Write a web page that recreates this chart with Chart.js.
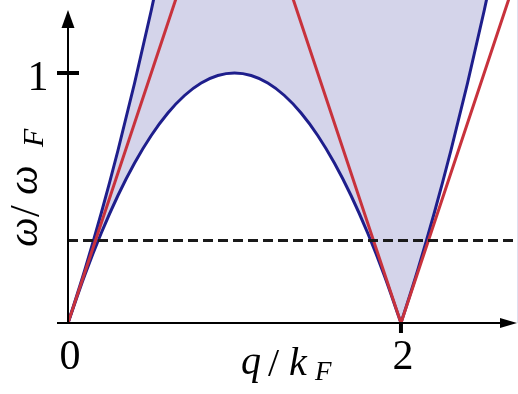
<!DOCTYPE html>
<html>
<head>
<meta charset="utf-8">
<script src="https://cdn.jsdelivr.net/npm/chart.js@4/dist/chart.umd.min.js"></script>
<style>
  html, body { margin: 0; padding: 0; background: #fff; }
  canvas { display: block; }
</style>
</head>
<body>
<canvas id="chart" width="518" height="394"></canvas>
<script>
// values (q in units of k_F, omega in units of omega_F)
const qArc = [0, 0.1, 0.2, 0.3, 0.4, 0.5, 0.6, 0.7, 0.8, 0.9, 1.0, 1.1, 1.2, 1.3, 1.4, 1.5, 1.6, 1.7, 1.8, 1.9, 2.0];
const omegaArc = [0, 0.19, 0.36, 0.51, 0.64, 0.75, 0.84, 0.91, 0.96, 0.99, 1.0, 0.99, 0.96, 0.91, 0.84, 0.75, 0.64, 0.51, 0.36, 0.19, 0];

const qUpper = [0, 0.1, 0.2, 0.3, 0.4, 0.5, 0.6, 0.7];
const omegaUpper = [0, 0.21, 0.44, 0.69, 0.96, 1.25, 1.56, 1.89];

const qRight = [2.0, 2.1, 2.2, 2.3, 2.4, 2.5, 2.6, 2.7];
const omegaRight = [0, 0.21, 0.44, 0.69, 0.96, 1.25, 1.56, 1.89];

const qRedLeft = [0, 0.7];
const omegaRedLeft = [0, 1.4];
const qRedRight = [1.3, 2.0, 2.7];
const omegaRedRight = [1.4, 0, 1.4];

const qDash = [0, 2.71];
const omegaDash = [0.33, 0.33];

// top edge of the shaded continuum (upper curve, then flat above the frame)
const qShade = [0, 0.1, 0.2, 0.3, 0.4, 0.5, 0.6, 0.7, 2.71];
const omegaShade = [0, 0.21, 0.44, 0.69, 0.96, 1.25, 1.56, 1.89, 1.89];

const xTicks = [0, 2];
const yTicks = [1];

const BLUE = "#1e1e8c";
const RED = "#c8323c";
const SHADE = "rgb(212,212,234)";

function toPoints(xs, ys) {
  return xs.map((x, i) => ({ x: x, y: ys[i] }));
}

// ==========================
// Axes, arrows, ticks and labels
// ==========================
const axesPlugin = {
  id: "axes",
  afterDatasetsDraw(chart) {
    const { ctx } = chart;
    const xs = chart.scales.x;
    const ys = chart.scales.y;
    const x0 = xs.getPixelForValue(0);
    const y0 = ys.getPixelForValue(0);

    ctx.save();
    ctx.strokeStyle = "#000";
    ctx.fillStyle = "#000";
    ctx.lineWidth = 2;

    // x axis
    ctx.beginPath();
    ctx.moveTo(57, y0);
    ctx.lineTo(503, y0);
    ctx.stroke();
    ctx.beginPath();
    ctx.moveTo(517, y0);
    ctx.lineTo(500, y0 - 5);
    ctx.lineTo(500, y0 + 5);
    ctx.closePath();
    ctx.fill();

    // y axis
    ctx.beginPath();
    ctx.moveTo(x0, y0 + 1);
    ctx.lineTo(x0, 24);
    ctx.stroke();
    ctx.beginPath();
    ctx.moveTo(x0, 10);
    ctx.lineTo(x0 - 6.5, 28);
    ctx.lineTo(x0 + 6.5, 28);
    ctx.closePath();
    ctx.fill();

    // ticks
    ctx.lineWidth = 4;
    xTicks.filter((v) => v !== 0).forEach((v) => {
      const px = xs.getPixelForValue(v);
      ctx.beginPath();
      ctx.moveTo(px, y0);
      ctx.lineTo(px, y0 + 10);
      ctx.stroke();
    });
    yTicks.forEach((v) => {
      const py = ys.getPixelForValue(v);
      ctx.beginPath();
      ctx.moveTo(57, py);
      ctx.lineTo(79, py);
      ctx.stroke();
    });

    // tick labels
    ctx.font = '42px "Liberation Serif"';
    ctx.textAlign = "center";
    ctx.textBaseline = "alphabetic";
    xTicks.forEach((v) => {
      ctx.fillText(String(v), xs.getPixelForValue(v) + 2, 369);
    });
    yTicks.forEach((v) => {
      ctx.fillText(String(v), 38, ys.getPixelForValue(v) + 17);
    });

    // x axis title: q/k_F
    ctx.textAlign = "left";
    ctx.font = 'italic 40px "Liberation Serif"';
    ctx.fillText("q", 241, 374);
    ctx.font = '40px "Liberation Serif"';
    ctx.fillText("/", 268, 376);
    ctx.font = 'italic 40px "Liberation Serif"';
    ctx.fillText("k", 289, 375);
    ctx.font = 'italic 27px "Liberation Serif"';
    ctx.fillText("F", 315, 380);

    // y axis title: omega/omega_F (rotated)
    ctx.save();
    ctx.translate(37, 247);
    ctx.rotate(-Math.PI / 2);
    ctx.font = 'italic 42px "Liberation Serif"';
    ctx.fillText("\u03c9", 0, 0);
    ctx.font = '42px "Liberation Serif"';
    ctx.fillText("/", 30, 2);
    ctx.font = 'italic 42px "Liberation Serif"';
    ctx.fillText("\u03c9", 52, 0);
    ctx.font = 'italic 30px "Liberation Serif"';
    ctx.fillText("F", 100, 6);
    ctx.restore();

    ctx.restore();
  },
};

// ==========================
// Chart
// ==========================
const ctx = document.getElementById("chart").getContext("2d");
new Chart(ctx, {
  type: "line",
  data: {
    datasets: [
      {
        data: toPoints(qDash, omegaDash),
        borderColor: "#1a1a1a",
        borderWidth: 3,
        borderDash: [10, 5],
        fill: false,
        order: 0,
      },
      {
        data: toPoints(qRedLeft, omegaRedLeft),
        borderColor: RED,
        borderWidth: 3,
        fill: false,
        order: 1,
      },
      {
        data: toPoints(qRedRight, omegaRedRight),
        borderColor: RED,
        borderWidth: 3,
        fill: false,
        order: 1,
      },
      {
        data: toPoints(qUpper, omegaUpper),
        borderColor: BLUE,
        borderWidth: 3,
        cubicInterpolationMode: "monotone",
        fill: false,
        order: 2,
      },
      {
        data: toPoints(qArc, omegaArc),
        borderColor: BLUE,
        borderWidth: 3,
        cubicInterpolationMode: "monotone",
        fill: { target: "origin" },
        backgroundColor: "#ffffff",
        order: 2,
      },
      {
        data: toPoints(qRight, omegaRight),
        borderColor: BLUE,
        borderWidth: 3,
        cubicInterpolationMode: "monotone",
        fill: { target: "origin" },
        backgroundColor: "#ffffff",
        order: 2,
      },
      {
        data: toPoints(qShade, omegaShade),
        borderColor: "rgba(0,0,0,0)",
        borderWidth: 0,
        cubicInterpolationMode: "monotone",
        fill: { target: "origin" },
        backgroundColor: SHADE,
        order: 10,
      },
    ],
  },
  options: {
    responsive: false,
    animation: false,
    devicePixelRatio: 1,
    layout: { padding: { left: 68, right: 0, top: 0, bottom: 71 } },
    elements: { point: { radius: 0, hoverRadius: 0 } },
    plugins: {
      legend: { display: false },
      tooltip: { enabled: false },
      filler: { drawTime: "beforeDatasetsDraw" },
    },
    scales: {
      x: { type: "linear", min: 0, max: 2.703, display: false },
      y: { type: "linear", min: 0, max: 1.292, display: false },
    },
  },
  plugins: [axesPlugin],
});
</script>
</body>
</html>
